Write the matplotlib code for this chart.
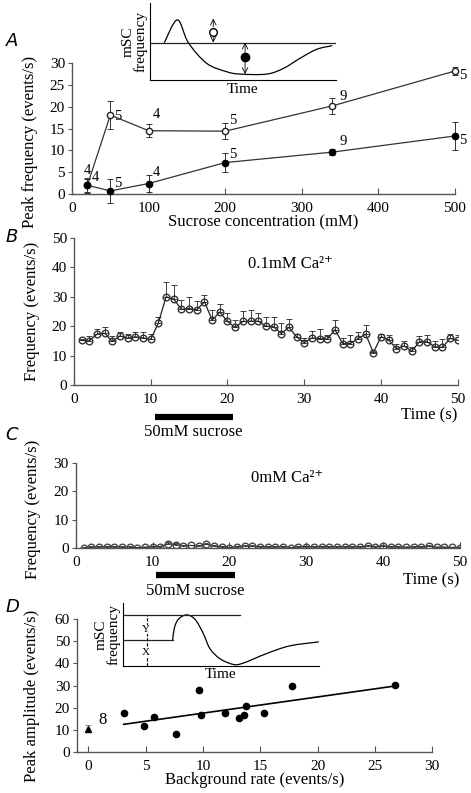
import numpy as np
import matplotlib
matplotlib.use("Agg")
import matplotlib.pyplot as plt
from matplotlib.path import Path
from matplotlib.patches import PathPatch

plt.rcParams['font.family'] = ['Liberation Serif', 'DejaVu Serif']

# ---- Panel A: peak frequency vs sucrose concentration ----
sucrose = [20, 50, 100, 200, 340, 500]
open_peak = [2.0, 18.1, 14.5, 14.4, 20.2, 28.2]
open_err = [1.5, 3.2, 1.5, 1.9, 1.8, 1.0]
filled_peak = [2.0, 0.7, 2.4, 7.2, 9.6, 13.3]
filled_err = [1.7, 2.7, 2.0, 2.2, 0.6, 3.2]
n_open = ['4', '5', '4', '5', '9', '5']
n_filled = ['4', '5', '4', '5', '9', '5']

# ---- Panel B: 0.1 mM Ca ----
time_s = list(range(1, 51))
freq_b = [15.2, 15.0, 17.3, 17.6, 14.8, 16.7, 15.9, 16.4, 16.0, 15.5,
          21.1, 30.0, 29.2, 25.7, 26.0, 25.6, 28.3, 22.1, 24.8, 21.6,
          19.6, 21.6, 21.7, 21.7, 20.0, 19.8, 17.5, 19.6, 16.4, 14.4,
          16.0, 15.8, 15.6, 18.8, 14.1, 14.1, 15.8, 17.3, 11.0, 16.4,
          15.3, 12.3, 13.3, 11.5, 14.7, 14.7, 13.0, 12.8, 15.9, 15.2]
err_b = [0.3, 1.8, 1.8, 2.0, 2.0, 1.3, 1.6, 1.6, 2.0, 2.0,
         2.0, 5.0, 4.8, 3.3, 4.0, 2.9, 2.2, 3.4, 2.7, 2.9,
         2.4, 3.4, 3.8, 2.8, 3.0, 3.2, 3.5, 2.9, 1.1, 1.6,
         2.5, 3.2, 1.4, 3.2, 1.9, 2.9, 2.2, 3.2, 0.2, 1.1,
         1.7, 1.7, 1.7, 1.5, 1.8, 2.3, 2.0, 2.7, 1.6, 1.8]

# ---- Panel C: 0 mM Ca ----
freq_c = [0.0, 0.35, 0.35, 0.4, 0.35, 0.35, 0.35, 0.1, 0.3, 0.5,
          0.5, 1.5, 1.2, 0.8, 0.9, 0.6, 1.4, 0.6, 0.5, 0.1,
          0.5, 0.7, 0.6, 0.5, 0.4, 0.4, 0.5, 0.1, 0.4, 0.5,
          0.4, 0.5, 0.4, 0.4, 0.4, 0.4, 0.4, 0.7, 0.5, 0.7,
          0.4, 0.4, 0.3, 0.4, 0.4, 0.6, 0.3, 0.3, 0.2, 0.1]
err_c = [0.2, 0.2, 0.2, 0.2, 0.2, 0.2, 0.2, 0.2, 0.2, 0.3,
         0.3, 0.5, 0.4, 0.3, 0.3, 0.3, 0.5, 0.3, 0.3, 0.2,
         0.3, 0.3, 0.3, 0.2, 0.2, 0.2, 0.2, 0.2, 0.2, 0.3,
         0.2, 0.3, 0.2, 0.2, 0.2, 0.2, 0.2, 0.3, 0.3, 0.3,
         0.2, 0.2, 0.2, 0.2, 0.2, 0.3, 0.2, 0.2, 0.2, 0.2]
sucrose_window = (10.5, 20.7)

# ---- Panel D: peak amplitude vs background rate ----
bg_rate = [3.08, 4.88, 5.7, 7.67, 9.68, 9.85, 11.95, 13.14, 13.55, 13.75, 15.3, 17.8, 26.8]
peak_amp = [17.4, 11.6, 15.6, 7.9, 27.9, 16.5, 17.7, 15.4, 16.6, 20.7, 17.4, 29.8, 30.4]
zero_bg_amp = 10.5
zero_bg_err = 1.6
zero_bg_n = '8'

# schematic inset curves (normalised inset coordinates)
schem_a_x = [0.077, 0.147, 0.206, 0.305, 0.412, 0.484, 0.627, 0.717, 0.806, 0.896, 0.98]
schem_a_y = [0.487, 0.783, 0.487, 0.217, 0.109, 0.078, 0.078, 0.152, 0.283, 0.40, 0.448]
schem_d_x = [0.254, 0.262, 0.283, 0.325, 0.368, 0.41, 0.444, 0.495, 0.563, 0.614, 0.732, 0.851, 1.0]
schem_d_y = [0.412, 0.60, 0.745, 0.813, 0.743, 0.519, 0.278, 0.118, 0.027, 0.048, 0.198, 0.321, 0.385]

AXC = '#555555'
TICK = 11
LAB = 12


def smooth_path(xs, ys):
    # Catmull-Rom control points -> cubic Bezier path
    pts = np.column_stack([xs, ys])
    verts = [pts[0]]
    codes = [Path.MOVETO]
    for i in range(len(pts) - 1):
        p0 = pts[max(i - 1, 0)]
        p1 = pts[i]
        p2 = pts[i + 1]
        p3 = pts[min(i + 2, len(pts) - 1)]
        verts += [p1 + (p2 - p0) / 6, p2 - (p3 - p1) / 6, p2]
        codes += [Path.CURVE4] * 3
    return Path(verts, codes)


def style_axes(ax):
    for s in ['top', 'right']:
        ax.spines[s].set_visible(False)
    for s in ['left', 'bottom']:
        ax.spines[s].set_color(AXC)
        ax.spines[s].set_linewidth(1.0)
    ax.tick_params(axis='x', direction='in', length=4, color=AXC, labelsize=TICK, pad=6)
    ax.tick_params(axis='y', direction='out', length=3, color=AXC, labelsize=TICK, pad=2)


def unclip(container):
    for art in container.get_children():
        art.set_clip_on(False)


fig = plt.figure(figsize=(4.71, 7.93), dpi=100)

# ---------------- A ----------------
axA = fig.add_axes([0.153, 0.7554, 0.813, 0.165])
style_axes(axA)
eo = axA.errorbar(sucrose, open_peak, yerr=open_err, fmt='-o', color='#333333', mfc='white',
                  mec='#222222', ms=4.5, lw=0.9, elinewidth=0.7, capsize=2.5, capthick=0.7, zorder=3)
ef = axA.errorbar(sucrose, filled_peak, yerr=filled_err, fmt='-o', color='#333333', mfc='black',
                  mec='black', ms=4.5, lw=0.9, elinewidth=0.7, capsize=2.5, capthick=0.7, zorder=4)
unclip(eo)
unclip(ef)
open_off = [(0, 6), (3, -1), (3, 7), (3, 3), (5, 2), (3, -3)]
filled_off = [(3, 1), (3, 1), (3, 3), (3, 1), (5, 3), (3, -3)]
for x, y, t, o in zip(sucrose, open_peak, n_open, open_off):
    axA.annotate(t, (x, y), xytext=o, textcoords='offset points', fontsize=10.5,
                 ha='left' if o[0] else 'center', va='bottom' if o[1] > 0 else 'center')
for x, y, t, o in zip(sucrose, filled_peak, n_filled, filled_off):
    axA.annotate(t, (x, y), xytext=o, textcoords='offset points', fontsize=10.5,
                 ha='left', va='bottom' if o[1] > 0 else 'center')
axA.set_xlim(0, 500)
axA.set_ylim(0, 30)
axA.set_xticks([0, 100, 200, 300, 400, 500])
axA.set_yticks([0, 5, 10, 15, 20, 25, 30])
axA.set_xlabel('Sucrose concentration (mM)', fontsize=LAB, labelpad=-1)
axA.set_ylabel('Peak frequency (events/s)', fontsize=LAB)
axA.yaxis.set_label_coords(-0.089, 0.4)
fig.text(0.012, 0.942, 'A', fontsize=13, style='italic', family='DejaVu Sans')

# inset A
inA = fig.add_axes([0.3185, 0.899, 0.395, 0.097])
for s in ['top', 'right']:
    inA.spines[s].set_visible(False)
inA.set_xticks([])
inA.set_yticks([])
inA.set_xlim(0, 1)
inA.set_ylim(0, 1)
inA.axhline(0.487, color='#222222', lw=0.9)
inA.add_patch(PathPatch(smooth_path(schem_a_x, schem_a_y), fc='none', ec='black', lw=0.9))
inA.plot([0.34], [0.63], 'o', mfc='white', mec='black', ms=5.5)
inA.annotate('', xy=(0.34, 0.80), xytext=(0.34, 0.69),
             arrowprops=dict(arrowstyle='->', lw=0.6, shrinkA=0, shrinkB=0))
inA.annotate('', xy=(0.34, 0.487), xytext=(0.34, 0.57),
             arrowprops=dict(arrowstyle='->', lw=0.6, shrinkA=0, shrinkB=0))
inA.plot([0.511], [0.304], 'o', mfc='black', mec='black', ms=6)
inA.annotate('', xy=(0.511, 0.487), xytext=(0.511, 0.078),
             arrowprops=dict(arrowstyle='<->', lw=0.6, shrinkA=0, shrinkB=0))
inA.set_xlabel('Time', fontsize=11, labelpad=2)
inA.set_ylabel('mSC\nfrequency', fontsize=11, labelpad=2, linespacing=0.85)

# ---------------- B ----------------
axB = fig.add_axes([0.157, 0.5145, 0.815, 0.1854])
style_axes(axB)
axB.errorbar(time_s, freq_b, yerr=[np.zeros(len(err_b)), err_b], fmt='-o', color='#222222',
             mfc='none', mec='#333333', ms=4.8, lw=0.9, elinewidth=0.6, capsize=2, capthick=0.6)
axB.set_xlim(0, 50)
axB.set_ylim(0, 50)
axB.set_xticks([0, 10, 20, 30, 40, 50])
axB.set_yticks([0, 10, 20, 30, 40, 50])
axB.set_ylabel('Frequency (events/s)', fontsize=LAB)
axB.yaxis.set_label_coords(-0.089, 0.5)
axB.text(0.565, 0.82, '0.1mM Ca²⁺', transform=axB.transAxes, fontsize=LAB,
         ha='center', va='center')
axB.text(50, -0.21, 'Time (s)', transform=axB.get_xaxis_transform(), fontsize=LAB,
         ha='right', va='center')
axB.plot(sucrose_window, [-0.22, -0.22], transform=axB.get_xaxis_transform(), color='black',
         lw=4.5, solid_capstyle='butt', clip_on=False)
axB.text(np.mean(sucrose_window), -0.32, '50mM sucrose', transform=axB.get_xaxis_transform(),
         fontsize=LAB, ha='center', va='center')
fig.text(0.012, 0.695, 'B', fontsize=13, style='italic', family='DejaVu Sans')

# ---------------- C ----------------
axC = fig.add_axes([0.161, 0.309, 0.815, 0.107])
style_axes(axC)
axC.errorbar(time_s, freq_c, yerr=[np.zeros(len(err_c)), err_c], fmt='-o', color='#333333',
             mfc='none', mec='#444444', ms=4.8, lw=0.9, elinewidth=0.6, capsize=1.5, capthick=0.6)
axC.set_xlim(0, 50)
axC.set_ylim(0, 30)
axC.set_xticks([0, 10, 20, 30, 40, 50])
axC.set_yticks([0, 10, 20, 30])
axC.set_ylabel('Frequency (events/s)', fontsize=LAB)
axC.yaxis.set_label_coords(-0.09, 0.45)
axC.text(0.55, 0.82, '0mM Ca²⁺', transform=axC.transAxes, fontsize=LAB,
         ha='center', va='center')
axC.text(50, -0.38, 'Time (s)', transform=axC.get_xaxis_transform(), fontsize=LAB,
         ha='right', va='center')
axC.plot(sucrose_window, [-0.32, -0.32], transform=axC.get_xaxis_transform(), color='black',
         lw=4.5, solid_capstyle='butt', clip_on=False)
axC.text(np.mean(sucrose_window), -0.51, '50mM sucrose', transform=axC.get_xaxis_transform(),
         fontsize=LAB, ha='center', va='center')
fig.text(0.012, 0.445, 'C', fontsize=13, style='italic', family='DejaVu Sans')

# ---------------- D ----------------
axD = fig.add_axes([0.1635, 0.0517, 0.754, 0.1677])
style_axes(axD)
axD.plot(bg_rate, peak_amp, 'o', color='black', ms=4.5)
fit = np.polyfit(bg_rate, peak_amp, 1)
fx = np.array([min(bg_rate), max(bg_rate)])
axD.plot(fx, np.polyval(fit, fx), color='black', lw=1.2)
axD.errorbar([0], [zero_bg_amp], yerr=[zero_bg_err], fmt='^', color='black', ms=4.5,
             elinewidth=0.6, ecolor='#777777', capsize=2, capthick=0.6)
axD.annotate(zero_bg_n, (0, zero_bg_amp), xytext=(7, 6), textcoords='offset points',
             fontsize=LAB, ha='left', va='center')
axD.set_xlim(-1, 30)
axD.set_ylim(0, 60)
axD.set_xticks([0, 5, 10, 15, 20, 25, 30])
axD.set_yticks([0, 10, 20, 30, 40, 50, 60])
axD.set_xlabel('Background rate (events/s)', fontsize=LAB, labelpad=-1)
axD.set_ylabel('Peak amplitude (events/s)', fontsize=LAB)
axD.yaxis.set_label_coords(-0.105, 0.42)
fig.text(0.012, 0.228, 'D', fontsize=13, style='italic', family='DejaVu Sans')

# inset D
inD = fig.add_axes([0.261, 0.160, 0.416, 0.0794])
for s in ['top', 'right']:
    inD.spines[s].set_visible(False)
inD.set_xticks([])
inD.set_yticks([])
inD.set_xlim(0, 1)
inD.set_ylim(0, 1)
inD.plot([0, 0.6], [0.813, 0.813], color='#222222', lw=0.9)
inD.plot([0, 0.254], [0.412, 0.412], color='#222222', lw=0.9)
inD.add_patch(PathPatch(smooth_path(schem_d_x, schem_d_y), fc='none', ec='black', lw=0.9))
inD.plot([0.122, 0.122], [0, 0.813], color='black', lw=0.8, ls=(0, (3, 1.5)))
inD.text(0.117, 0.58, 'Y', fontsize=8, ha='center', va='center',
         bbox=dict(fc='white', ec='none', pad=0.2))
inD.text(0.117, 0.22, 'X', fontsize=8, ha='center', va='center',
         bbox=dict(fc='white', ec='none', pad=0.2))
inD.set_xlabel('Time', fontsize=11, labelpad=1)
inD.set_ylabel('mSC\nfrequency', fontsize=11, labelpad=2, linespacing=0.85)

fig.savefig('out.png', dpi=100)
